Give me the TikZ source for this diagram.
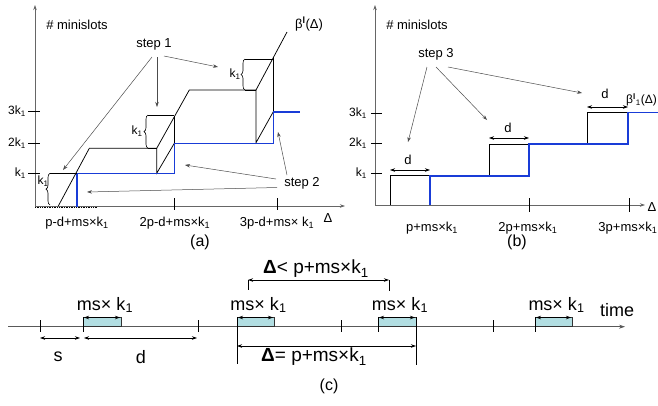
\documentclass[tikz,border=0pt]{standalone}
\usepackage{fontspec}
\setmainfont{Liberation Sans}
\usetikzlibrary{arrows.meta,decorations.pathreplacing}
\definecolor{curveblue}{RGB}{25,60,215}
\definecolor{boxfill}{RGB}{178,222,226}
\newcommand{\ksub}{k\textsubscript{1}}
\tikzset{
  axisline/.style={draw=gray!80!black, line width=0.7pt},
  ticmark/.style={draw=black, line width=0.7pt},
  curveline/.style={draw=black, line width=0.75pt},
  bluestep/.style={draw=curveblue, line width=1.6pt},
  pointer/.style={draw=gray!60!black, line width=0.5pt, -{Stealth[length=5pt,width=3.5pt]}},
  dimline/.style={draw=black, line width=0.8pt, {Stealth[length=5pt,width=3.5pt]}-{Stealth[length=5pt,width=3.5pt]}},
  bracestyle/.style={decorate, decoration={brace, amplitude=4pt}, line width=0.6pt},
  lbl/.style={font=\fontsize{13}{15}\selectfont, inner sep=0pt},
  tlbl/.style={font=\fontsize{12}{14}\selectfont, inner sep=0pt},
  biglbl/.style={font=\fontsize{18}{20}\selectfont, inner sep=0pt},
  slot/.style={draw=black!80, fill=boxfill, line width=0.6pt},
}
\begin{document}
\begin{tikzpicture}[x=1pt,y=-1pt]
\useasboundingbox (0,0) rectangle (658,405);
% ================= panel (a) =================
\draw[axisline,-{Stealth[length=5pt,width=3.5pt]}] (35,206) -- (35,5);
\draw[axisline,-{Stealth[length=5pt,width=3.5pt]}] (35,206) -- (345,206);
\draw[densely dotted, line width=0.7pt] (35,207.5) -- (97,207.5);
\foreach \yy in {111,143,173} \draw[ticmark] (28,\yy) -- (40,\yy);
\node[tlbl, anchor=east] (a3k) at (26,111) {3\ksub};
\node[tlbl, anchor=east] (a2k) at (26,143) {2\ksub};
\node[tlbl, anchor=east] (a1k) at (26,173) {\ksub};
\foreach \xx in {174,277} \draw[ticmark] (\xx,198) -- (\xx,210);
\node[lbl] (ax1) at (77,223) {p-d+ms×\ksub};
\node[lbl] (ax2) at (175,223) {2p-d+ms×\ksub};
\node[lbl] (ax3) at (277,223) {3p-d+ms× \ksub};
\node[lbl] (adelta) at (328,218) {Δ};
\node[lbl] (aylabel) at (77,25) {\# minislots};
\node[lbl] (acap) at (200,242) {\fontsize{16}{18}\selectfont (a)};
% main curve
\draw[curveline] (58.3,206) -- (89.3,148.3) -- (156.7,148.3) -- (189.3,90) -- (256,90) -- (287,32);
\node[lbl] (abeta) at (309,24) {β\textsuperscript{\textbf{l}}(Δ)};
% shifted parts
\draw[curveline] (156.7,148.3) -- (156.7,173.3) -- (174.3,143.3);
\draw[curveline] (174.3,116.8) -- (174.3,143.3);
\draw[curveline] (256,90) -- (256,142.7) -- (273.3,111.7);
\draw[curveline] (273.3,57) -- (273.3,111.7);
% blue staircase
\draw[bluestep] (77,207) -- (77,173.3) -- (174.3,173.3) -- (174.3,143.3) -- (273.3,143.3) -- (273.3,111.7) -- (300,111.7);
% braces
\draw[bracestyle] (50,205) -- (50,173.3);
\draw[line width=0.6pt] (50,173.3) -- (77,173.3);
\node[tlbl] (abr1) at (43,181) {\ksub};
\draw[bracestyle] (148,148.3) -- (148,115);
\draw[line width=0.6pt] (148,115) -- (174.3,115);
\draw[line width=0.6pt] (148,148.3) -- (156.7,148.3);
\node[tlbl] (abr2) at (137,131) {\ksub};
\draw[bracestyle] (245,90) -- (245,59);
\draw[line width=0.6pt] (245,59) -- (273.3,59);
\draw[line width=0.6pt] (245,90) -- (256,90);
\node[tlbl] (abr3) at (235,74) {\ksub};
% step labels
\node[lbl] (step1) at (154,44) {step 1};
\coordinate (s1a) at (63,170);
\coordinate (s1b) at (157,107);
\coordinate (s1c) at (218,67);
\draw[pointer] (152,57) -- (s1a);
\draw[pointer] (157,57) -- (s1b);
\draw[pointer] (164,56) -- (s1c);
\node[lbl] (step2) at (302,183) {step 2};
\coordinate (s2a) at (185,165);
\coordinate (s2b) at (87,192);
\coordinate (s2c) at (278,132);
\draw[pointer] (276,179) -- (s2a);
\draw[pointer] (277,187.5) -- (s2b);
\draw[pointer] (287,175) -- (s2c);
% ================= panel (b) =================
\draw[axisline,-{Stealth[length=5pt,width=3.5pt]}] (375,205) -- (375,5);
\draw[axisline,-{Stealth[length=5pt,width=3.5pt]}] (375,205) -- (645,205);
\foreach \yy in {113,143,173} \draw[ticmark] (371,\yy) -- (382,\yy);
\node[tlbl, anchor=east] (b3k) at (367,113) {3\ksub};
\node[tlbl, anchor=east] (b2k) at (367,143) {2\ksub};
\node[tlbl, anchor=east] (b1k) at (367,173) {\ksub};
\foreach \xx in {529,629} \draw[ticmark] (\xx,198) -- (\xx,212);
\node[lbl] (bx1) at (432,228) {p+ms×\ksub};
\node[lbl] (bx2) at (528,228) {2p+ms×\ksub};
\node[lbl] (bx3) at (628,228) {3p+ms×\ksub};
\node[lbl] (bdelta) at (652,207) {Δ};
\node[lbl] (bylabel) at (417,25) {\# minislots};
\node[lbl] (bcap) at (517,242) {\fontsize{16}{18}\selectfont (b)};
\draw[curveline] (390,205) -- (390,175.7) -- (430,175.7);
\draw[curveline] (489,175.7) -- (489,144) -- (529,144);
\draw[curveline] (587,144) -- (587,112.3) -- (628,112.3);
\draw[bluestep] (430,205) -- (430,175.7) -- (529,175.7) -- (529,144) -- (628,144) -- (628,112.3) -- (660,112.3);
\draw[dimline, line width=0.6pt] (390,170) -- (430,170);
\node[lbl] (bd1) at (408,160) {d};
\draw[dimline, line width=0.6pt] (489,138) -- (529,138);
\node[lbl] (bd2) at (508,128) {d};
\draw[dimline, line width=0.6pt] (587,107) -- (628,107);
\node[lbl] (bd3) at (605,94) {d};
\node[tlbl, anchor=west] (bbeta) at (626,100) {β\textsuperscript{\textbf{l}}\textsubscript{1}(Δ)};
\node[lbl] (step3) at (436,54) {step 3};
\coordinate (s3a) at (408,142);
\coordinate (s3b) at (487,120);
\coordinate (s3c) at (582,93);
\draw[pointer] (427,67) -- (s3a);
\draw[pointer] (436,67) -- (s3b);
\draw[pointer] (448,67) -- (s3c);
% ================= panel (c) =================
\draw[draw=gray!70!black, line width=0.6pt,-{Stealth[length=6pt,width=4pt]}] (8,326.7) -- (625,326.7);
\node[biglbl] (timelbl) at (617,310) {time};
\foreach \xx in {40,198,341,493} \draw[line width=0.6pt] (\xx,320) -- (\xx,332);
\foreach \xa/\xb/\nm in {83/121/ca,237/274/cb,378/416/cc,535/572/cd} {
  \draw[slot] (\xa,317) rectangle (\xb,326.7);
  \draw[dimline] (\xa+1,317.5) -- (\xb-1,317.5);
  \draw[line width=0.6pt] (\xa,317) -- (\xa,332);
  \node[biglbl] (\nm) at ({(\xa+\xb)/2+3},305) {ms× \ksub};
}
\draw[line width=0.6pt] (237,317) -- (237,364);
\draw[line width=0.6pt] (416,317) -- (416,365);
\draw[dimline] (40,338) -- (80,338);
\draw[dimline] (84,338) -- (197,338);
\node[biglbl] (cs) at (58,357) {s};
\node[biglbl] (cd) at (141,357) {d};
\draw[line width=0.6pt] (248,280) -- (248,290);
\draw[line width=0.6pt] (389,280) -- (389,291);
\draw[dimline] (248,280) -- (389,280);
\node[biglbl] (cless) at (316,269) {\fontsize{19}{21}\selectfont\textbf{Δ}< p+ms×\ksub};
\draw[dimline] (237,346) -- (416,346);
\node[biglbl] (ceq) at (314,357) {\fontsize{19}{21}\selectfont\textbf{Δ}= p+ms×\ksub};
\node[lbl] (ccap) at (329,386) {\fontsize{16}{18}\selectfont (c)};
\end{tikzpicture}
\end{document}
